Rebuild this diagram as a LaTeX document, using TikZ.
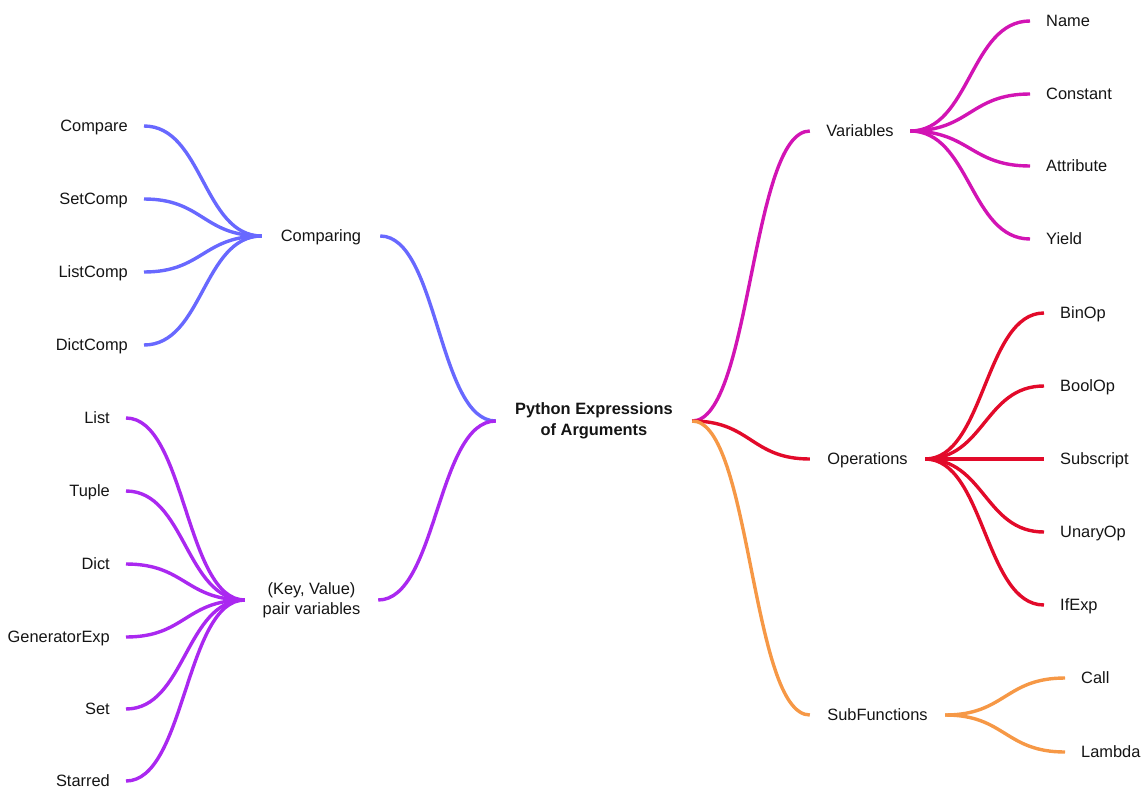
\documentclass[tikz,border=0pt]{standalone}
\usepackage{fontspec}
\setmainfont{Liberation Sans}
\usetikzlibrary{calc}

\definecolor{cmpcol}{RGB}{104,104,255}
\definecolor{paircol}{RGB}{170,40,240}
\definecolor{varcol}{RGB}{210,20,180}
\definecolor{opcol}{RGB}{226,10,42}
\definecolor{subcol}{RGB}{246,152,70}
\definecolor{ink}{RGB}{20,20,20}

\begin{document}
\begin{tikzpicture}[x=1pt,y=-1pt,
  txt/.style={font=\fontsize{16.4}{20}\selectfont, text=ink},
  hub/.style={txt, align=center, inner sep=0pt},
  onel/.style={text height=11.7pt, text depth=0pt},
  leafR/.style={txt, onel, anchor=west, inner xsep=16pt, inner ysep=0pt},
  leafL/.style={txt, onel, anchor=east, inner xsep=16pt, inner ysep=0pt},
  link/.style={line width=3.4pt},
  branch/.style={to path={
    .. controls ($(\tikztostart)!.5!(\tikztostart -| \tikztotarget)$)
    and ($(\tikztotarget)!.5!(\tikztotarget -| \tikztostart)$) .. (\tikztotarget)}}
]
\useasboundingbox (0,0) rectangle (1142,789);

% central topic and its five branches
\node[hub, font=\fontsize{16.4}{21}\selectfont\bfseries, minimum width=196pt] (root) at (594,421) {Python Expressions\\of Arguments};
\node[hub, onel, minimum width=100pt] (var) at (860,131) {Variables};
\node[hub, onel, minimum width=115pt] (ops) at (867.5,459) {Operations};
\node[hub, onel, minimum width=135pt] (sub) at (877.5,715) {SubFunctions};
\node[hub, onel, minimum width=118pt] (cmp) at (321,236) {Comparing};
\node[hub, minimum width=133pt] (pair) at (311.5,600) {(Key, Value)\\pair variables};

\draw[link, varcol] (root.east) to[branch] (var.west);
\draw[link, opcol]  (root.east) to[branch] (ops.west);
\draw[link, subcol] (root.east) to[branch] (sub.west);
\draw[link, cmpcol] (root.west) to[branch] (cmp.east);
\draw[link, paircol] (root.west) to[branch] (pair.east);

% variables
\foreach \n/\t/\y in {name/Name/21, const/Constant/94, attr/Attribute/166, yield/Yield/239} {
  \node[leafR] (\n) at (1030,\y) {\t};
  \draw[link, varcol] (var.east) to[branch] (\n.west);
}

% operations
\foreach \n/\t/\y in {binop/BinOp/313, boolop/BoolOp/386, subs/Subscript/459, unop/UnaryOp/532, ifexp/IfExp/605} {
  \node[leafR] (\n) at (1044,\y) {\t};
  \draw[link, opcol] (ops.east) to[branch] (\n.west);
}

% sub functions
\foreach \n/\t/\y in {call/Call/678, lambda/Lambda/752} {
  \node[leafR] (\n) at (1065,\y) {\t};
  \draw[link, subcol] (sub.east) to[branch] (\n.west);
}

% comparisons
\foreach \n/\t/\y in {compare/Compare/126, setcomp/SetComp/199, listcomp/ListComp/272, dictcomp/DictComp/345} {
  \node[leafL] (\n) at (144,\y) {\t};
  \draw[link, cmpcol] (cmp.west) to[branch] (\n.east);
}

% containers
\foreach \n/\t/\y in {list/List/418, tuple/Tuple/491, dict/Dict/564, genexp/GeneratorExp/637, set/Set/709, starred/Starred/781} {
  \node[leafL] (\n) at (126,\y) {\t};
  \draw[link, paircol] (pair.west) to[branch] (\n.east);
}
\end{tikzpicture}
\end{document}
